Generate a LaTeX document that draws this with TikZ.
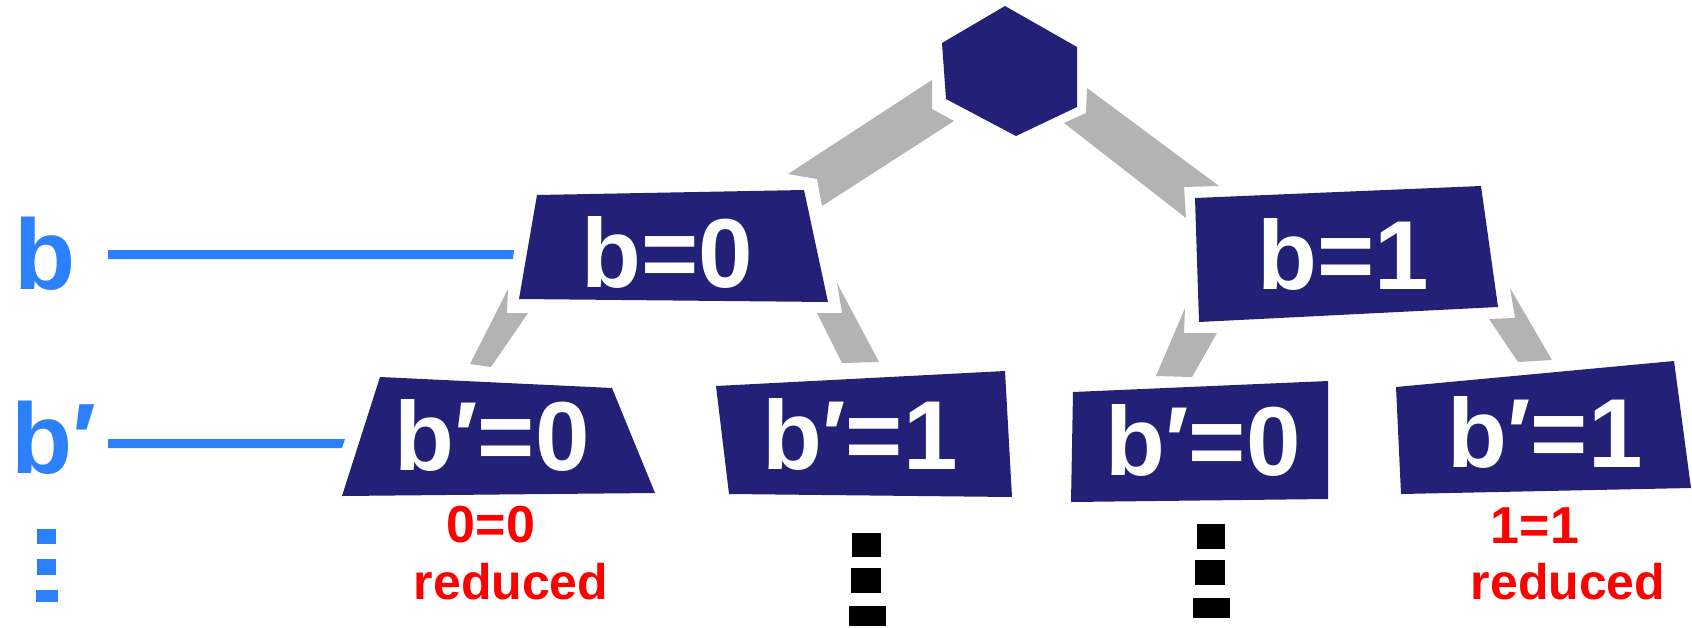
\documentclass[tikz,border=0pt]{standalone}
\usepackage{fontspec}
\setmainfont{Liberation Sans}
\definecolor{navy}{RGB}{34,33,119}
\definecolor{bandgray}{RGB}{179,179,179}
\definecolor{lblue}{RGB}{45,128,252}
\definecolor{lred}{RGB}{255,0,0}
\begin{document}
\begin{tikzpicture}[x=0.5pt,y=-0.5pt,
  box/.style={fill=navy},
  band/.style={fill=bandgray},
  guide/.style={fill=lblue},
  intext/.style={text=white,font=\fontsize{49}{49}\selectfont\bfseries,inner sep=0pt},
  sidetext/.style={text=lblue,font=\fontsize{50}{50}\selectfont\bfseries,inner sep=0pt},
  redeq/.style={text=lred,font=\bfseries\fontsize{26}{26}\selectfont,inner sep=0pt,anchor=base},
  redword/.style={text=lred,font=\bfseries\fontsize{25}{25}\selectfont,inner sep=0pt,anchor=base},
  dotblk/.style={fill=black},
  dotblue/.style={fill=lblue}]
\useasboundingbox (0,0) rectangle (1692,627);

% root hexagon
\fill[box] (1005,6) -- (1077,47) -- (1077,107) -- (1016,136) -- (946,99) -- (942,43) -- cycle;
\coordinate (root) at (1010,70);

% level 1 boxes
\fill[box] (537,195) -- (804,190) -- (828,302) -- (519,299) -- cycle;
\fill[box] (1195,198) -- (1481,186) -- (1498,307) -- (1199,322) -- cycle;

% level 2 boxes
\fill[box] (380,377) -- (612,388) -- (655,493) -- (342,496) -- cycle;
\fill[box] (716,386) -- (1005,371) -- (1012,497) -- (729,494) -- cycle;
\fill[box] (1073,392) -- (1328,381) -- (1328,499) -- (1071,502) -- cycle;
\fill[box] (1396,387) -- (1674,361) -- (1691,488) -- (1401,494) -- cycle;

% gray connector bands
\fill[band] (788,174) -- (932,80) -- (932,109) -- (954,121) -- (822,206) -- (817,179) -- cycle;
\fill[band] (1087,88) -- (1219,186) -- (1184,187) -- (1186,218) -- (1064,123) -- (1086,113) -- cycle;
\fill[band] (508,289) -- (507,313) -- (528,313) -- (491,367) -- (470,364) -- cycle;
\fill[band] (837,283) -- (842,313) -- (817,313) -- (842,363) -- (879,362) -- cycle;
\fill[band] (1185,308) -- (1184,333) -- (1217,333) -- (1192,377) -- (1156,376) -- cycle;
\fill[band] (1510,288) -- (1515,318) -- (1489,319) -- (1518,362) -- (1552,360) -- cycle;

% blue guide lines
\fill[guide] (108,250) -- (514,250) -- (513,259) -- (108,259) -- cycle;
\fill[guide] (108,439) -- (345,439) -- (342,448) -- (108,448) -- cycle;

% texts in boxes
\node[intext] (t1) at (667,252) {b=0};
\node[intext] (t2) at (1343,254) {b=1};
\node[intext] (t3) at (492,435) {b′=0};
\node[intext] (t4) at (860,434) {b′=1};
\node[intext] (t5) at (1203,440) {b′=0};
\node[intext] (t6) at (1545,432) {b′=1};

% side labels
\node[sidetext] (lb) at (45,254) {b};
\node[sidetext] (lbp) at (54,438) {b′};

% reduced labels
\node[redeq] (r1) at (491,542) {0=0};
\node[redword] (r2) at (511,599) {reduced};
\node[redeq] (r3) at (1535,543) {1=1};
\node[redword] (r4) at (1568,599) {reduced};

% vertical ellipses
\fill[dotblk] (852,533) rectangle (881,557);
\fill[dotblk] (851,568) rectangle (881,593);
\fill[dotblk] (849,606) rectangle (886,626);
\fill[dotblk] (1197,524) rectangle (1225,549);
\fill[dotblk] (1195,560) rectangle (1225,585);
\fill[dotblk] (1193,598) rectangle (1230,618);
\fill[dotblue] (37,529) rectangle (56,544);
\fill[dotblue] (37,559) rectangle (56,575);
\fill[dotblue] (36,590) rectangle (58,602);
\end{tikzpicture}
\end{document}
